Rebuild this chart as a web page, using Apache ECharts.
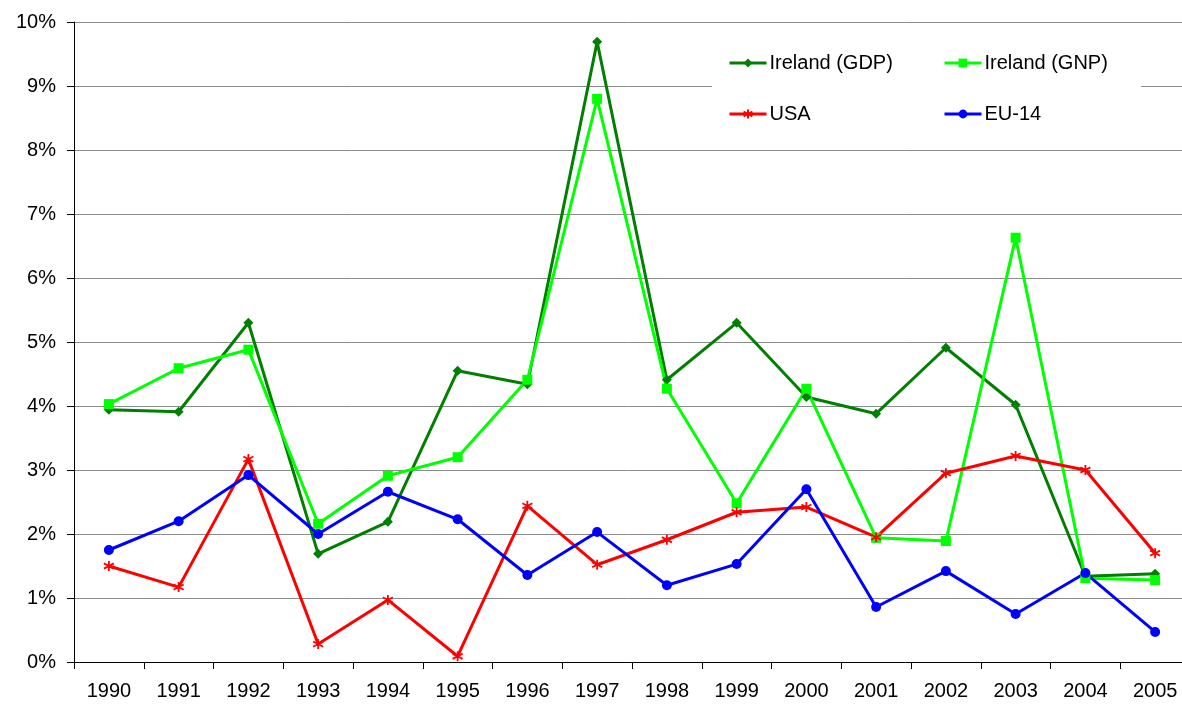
<!DOCTYPE html>
<html><head><meta charset="utf-8">
<script src="https://cdn.jsdelivr.net/npm/echarts@6/dist/echarts.min.js"></script>
<style>html,body{margin:0;padding:0;background:#fff}#c{width:1182px;height:705px}</style>
</head><body><div id="c"></div>
<script>
const years = ['1990','1991','1992','1993','1994','1995','1996','1997','1998','1999','2000','2001','2002','2003','2004','2005'];
const irelandGDP = [3.94,3.91,5.30,1.69,2.19,4.55,4.34,9.69,4.41,5.30,4.14,3.88,4.91,4.02,1.34,1.38];
const irelandGNP = [4.03,4.59,4.88,2.16,2.91,3.20,4.41,8.80,4.27,2.48,4.27,1.94,1.89,6.63,1.31,1.28];
const usa = [1.50,1.17,3.17,0.28,0.97,0.09,2.44,1.52,1.91,2.34,2.42,1.95,2.95,3.22,3.00,1.70];
const eu14 = [1.75,2.20,2.92,2.00,2.66,2.23,1.36,2.03,1.20,1.53,2.70,0.86,1.42,0.75,1.39,0.47];
const yTicks = [0,1,2,3,4,5,6,7,8,9,10];

const chart = echarts.init(document.getElementById('c'));
const font = 'Liberation Sans, Arial, sans-serif';
const star = 'path://M0 -5L0 5M-4.5 -2.6L4.5 2.6M-4.5 2.6L4.5 -2.6';
function mk(name, data, color, symbol, size, extra) {
  return Object.assign({
    name, type: 'line', data, symbol, symbolSize: size,
    lineStyle: { color, width: 3 },
    itemStyle: { color },
    emphasis: { disabled: true },
    animation: false, z: 3
  }, extra || {});
}
const legendCommon = {
  orient: 'vertical', top: 48, itemWidth: 37, itemHeight: 11, itemGap: 31,
  lineStyle: { width: 3 },
  textStyle: { fontSize: 20, color: '#000', fontFamily: font, padding: [0,0,0,-2] }, z: 10
};
chart.setOption({
  animation: false,
  textStyle: { fontFamily: font },
  grid: { left: 74, width: 1116, top: 22, bottom: 43, outerBoundsMode: 'none', containLabel: false },
  xAxis: {
    type: 'category', data: years, boundaryGap: true,
    axisLine: { lineStyle: { color: '#000', width: 1 } },
    axisTick: { show: true, length: 7, lineStyle: { color: '#000' } },
    axisLabel: { color: '#000', fontSize: 20, fontFamily: font, margin: 19 }
  },
  yAxis: {
    type: 'value', min: yTicks[0], max: yTicks[yTicks.length-1], interval: 1,
    axisLine: { show: true, lineStyle: { color: '#000', width: 1 } },
    axisTick: { show: true, length: 7, lineStyle: { color: '#000' } },
    axisLabel: { color: '#000', fontSize: 20, fontFamily: font, margin: 18, formatter: '{value}%' },
    splitLine: { show: true, lineStyle: { color: '#8c8c8c', width: 1 } }
  },
  graphic: [{ type: 'rect', shape: { x: 712, y: 30, width: 429, height: 110 }, style: { fill: '#fff' }, z: 1 }],
  legend: [
    Object.assign({ data: ['Ireland (GDP)', 'USA'], left: 723 }, legendCommon),
    Object.assign({ data: ['Ireland (GNP)', 'EU-14'], left: 938 }, legendCommon)
  ],
  series: [
    mk('Ireland (GDP)', irelandGDP, '#008000', 'diamond', 10),
    mk('Ireland (GNP)', irelandGNP, '#00ff00', 'rect', 10),
    mk('USA', usa, '#ff0000', star, 10, { itemStyle: { color: 'none', borderColor: '#ff0000', borderWidth: 1.8 } }),
    mk('EU-14', eu14, '#0000ff', 'circle', 10)
  ]
});
</script></body></html>
